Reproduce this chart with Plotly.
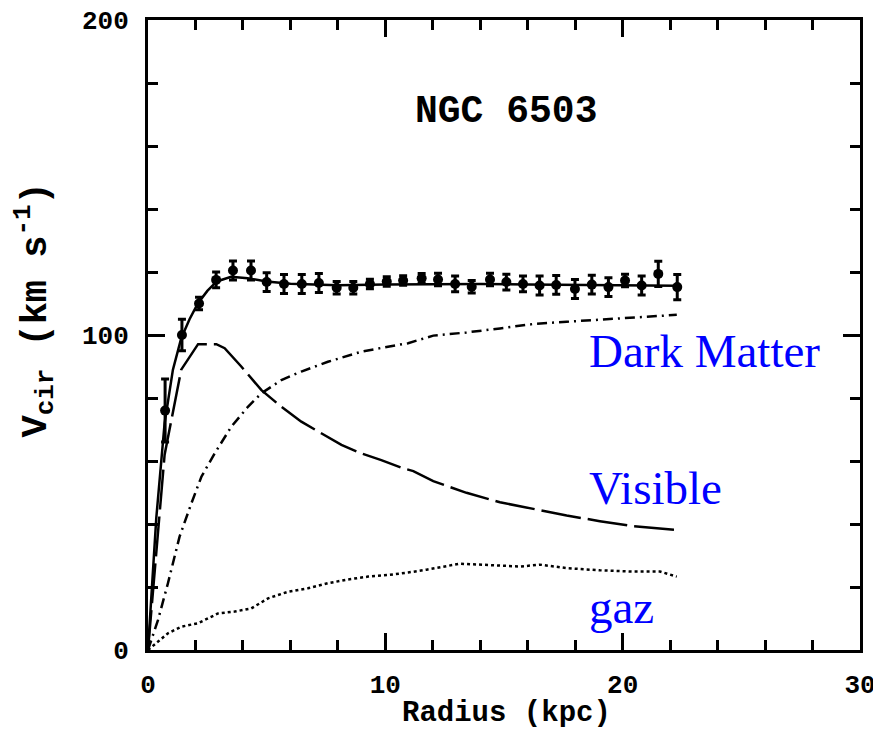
import plotly.graph_objects as go

# Observed rotation curve (radius kpc, velocity km/s, error)
obs_r = [0.72, 1.43, 2.15, 2.87, 3.58, 4.34, 5.0, 5.73, 6.48, 7.2, 7.95, 8.65, 9.35, 10.06,
         10.75, 11.53, 12.22, 12.94, 13.64, 14.41, 15.1, 15.8, 16.5, 17.2, 17.99, 18.7,
         19.4, 20.1, 20.8, 21.5, 22.3]
obs_v = [76, 100, 110, 117.5, 120.5, 120.5, 116.8, 116.2, 116.2, 116.5, 115.0, 115.0, 116.2, 117.0,
         117.3, 118.0, 117.6, 116.2, 115.3, 117.6, 116.8, 116.2, 115.7, 115.9, 114.6, 116.0,
         115.2, 117.3, 115.7, 119.4, 115.2]
obs_err = [10, 5, 2, 2.5, 3, 3, 3, 3, 3, 3, 2, 2, 1.5, 1.5,
           1.5, 1.5, 2, 2.5, 2, 2, 2.5, 2.5, 3, 3, 3, 3,
           3, 2, 3, 4, 4]

# Total model fit
fit_r = [0, 0.35, 0.7, 1.05, 1.4, 1.75, 2.1, 2.5, 2.9, 3.5, 4.2, 5, 6, 8, 10, 12, 14, 16, 18, 20, 22.3]
fit_v = [0, 42, 72, 89, 99, 105, 110, 114, 117, 118.5, 118, 117, 116.3, 115.8, 116, 116.2, 116.2, 116, 115.8, 115.8, 115.6]

# Visible (stellar disk) component
vis_r = [0, 0.7, 1.4, 2.11, 2.88, 3.23, 3.93, 4.78, 5.62, 6.46, 7.3, 8.15, 8.99, 9.83, 10.74,
         11.18, 12.02, 13.42, 14.83, 16.23, 17.64, 19.04, 20.45, 22.28]
vis_v = [0, 62, 89, 97.1, 97.1, 95.8, 90, 82.5, 77.2, 72.5, 68.8, 65.1, 62.4, 60.3, 57.7,
         56.8, 53.6, 49.9, 46.9, 44.8, 42.7, 40.9, 39.3, 38.1]

# Dark matter halo component
dm_r = [0, 0.42, 0.84, 1.33, 1.83, 2.25, 2.81, 3.51, 4.21, 4.78, 5.62, 6.46, 7.58, 8.99, 10.11,
        10.96, 12.02, 13.42, 14.83, 16.23, 17.64, 19.04, 20.45, 22.28]
dm_v = [0, 9.5, 21.2, 36, 46.6, 55, 62.4, 70.9, 77.2, 81.5, 85.7, 88.4, 91.5, 94.7, 96.3,
        97.4, 99.8, 100.8, 102.1, 103.5, 104.2, 104.9, 105.6, 106.4]

# Gas component
gas_r = [0, 0.84, 1.4, 2.11, 2.95, 3.65, 4.35, 5.06, 5.9, 6.74, 7.58, 8.43, 9.27, 10.11, 10.96,
         11.74, 13.15, 14.27, 15.68, 16.52, 17.64, 19.04, 20.45, 21.57, 22.28]
gas_v = [0, 5.3, 7.4, 8.5, 11.6, 12.2, 13.2, 16.4, 18.5, 19.6, 21.2, 22.4, 23.3, 23.8, 24.6,
         25.5, 27.4, 27.1, 26.5, 27.1, 26.0, 25.3, 24.9, 24.9, 23.3]

labels = ["Dark Matter", "Visible", "gaz"]
label_x = [18.5, 18.5, 18.5]
label_y = [95, 51.5, 13.5]

mono = "Liberation Mono"

fig = go.Figure()
fig.add_trace(go.Scatter(x=fit_r, y=fit_v, mode="lines",
                         line=dict(color="black", width=2.5), showlegend=False))
fig.add_trace(go.Scatter(x=vis_r, y=vis_v, mode="lines",
                         line=dict(color="black", width=2.5, dash="40px,7px"), showlegend=False))
fig.add_trace(go.Scatter(x=dm_r, y=dm_v, mode="lines",
                         line=dict(color="black", width=2.5, dash="10px,5px,2px,5px"), showlegend=False))
fig.add_trace(go.Scatter(x=gas_r, y=gas_v, mode="lines",
                         line=dict(color="black", width=2.5, dash="3px,3px"), showlegend=False))
fig.add_trace(go.Scatter(x=obs_r, y=obs_v, mode="markers",
                         marker=dict(color="black", size=10, symbol="circle"),
                         error_y=dict(type="data", array=obs_err, color="black", thickness=3, width=4),
                         showlegend=False))

for t, x, y in zip(labels, label_x, label_y):
    fig.add_annotation(x=x, y=y, text=t, showarrow=False, xanchor="left", yanchor="middle",
                       font=dict(family="Liberation Serif", size=47, color="#0000FF"))

fig.add_annotation(x=0.503, y=0.854, xref="paper", yref="paper", text="NGC 6503", showarrow=False,
                   xanchor="center", yanchor="middle",
                   font=dict(family=mono, size=38, color="black", weight="bold"))

fig.add_annotation(x=0.503, y=-0.1, xref="paper", yref="paper", text="Radius (kpc)", showarrow=False,
                   xanchor="center", yanchor="middle",
                   font=dict(family=mono, size=29, color="black", weight="bold"))
fig.add_annotation(x=-0.159, y=0.54, xref="paper", yref="paper",
                   text="V<sub>cir</sub> (km s<sup>-1</sup>)", showarrow=False, textangle=-90,
                   xanchor="center", yanchor="middle",
                   font=dict(family=mono, size=37, color="black", weight="bold"))

axis_common = dict(showgrid=False, zeroline=False, showline=True, linecolor="black", linewidth=3,
                   mirror="ticks", ticks="inside", tickcolor="black", tickwidth=2.5, ticklen=17,
                   automargin=False, ticklabeloverflow="allow",
                   tickfont=dict(family=mono, size=26, color="black", weight="bold"))

fig.update_xaxes(range=[0, 30], tickvals=[0, 10, 20, 30], ticklabelstandoff=9,
                 minor=dict(dtick=2, ticks="inside", ticklen=10, tickwidth=2.5, tickcolor="black"),
                 **axis_common)
fig.update_yaxes(range=[0, 200], tickvals=[0, 100, 200], ticklabelstandoff=11,
                 minor=dict(dtick=20, ticks="inside", ticklen=10, tickwidth=2.5, tickcolor="black"),
                 **axis_common)

# page body adds an 8px offset; size the figure so the plot box lands where the reference has it
fig.update_layout(width=873, height=723, margin=dict(l=140, r=21, t=12, b=81),
                  plot_bgcolor="white", paper_bgcolor="white")

fig.write_html("out.html")
